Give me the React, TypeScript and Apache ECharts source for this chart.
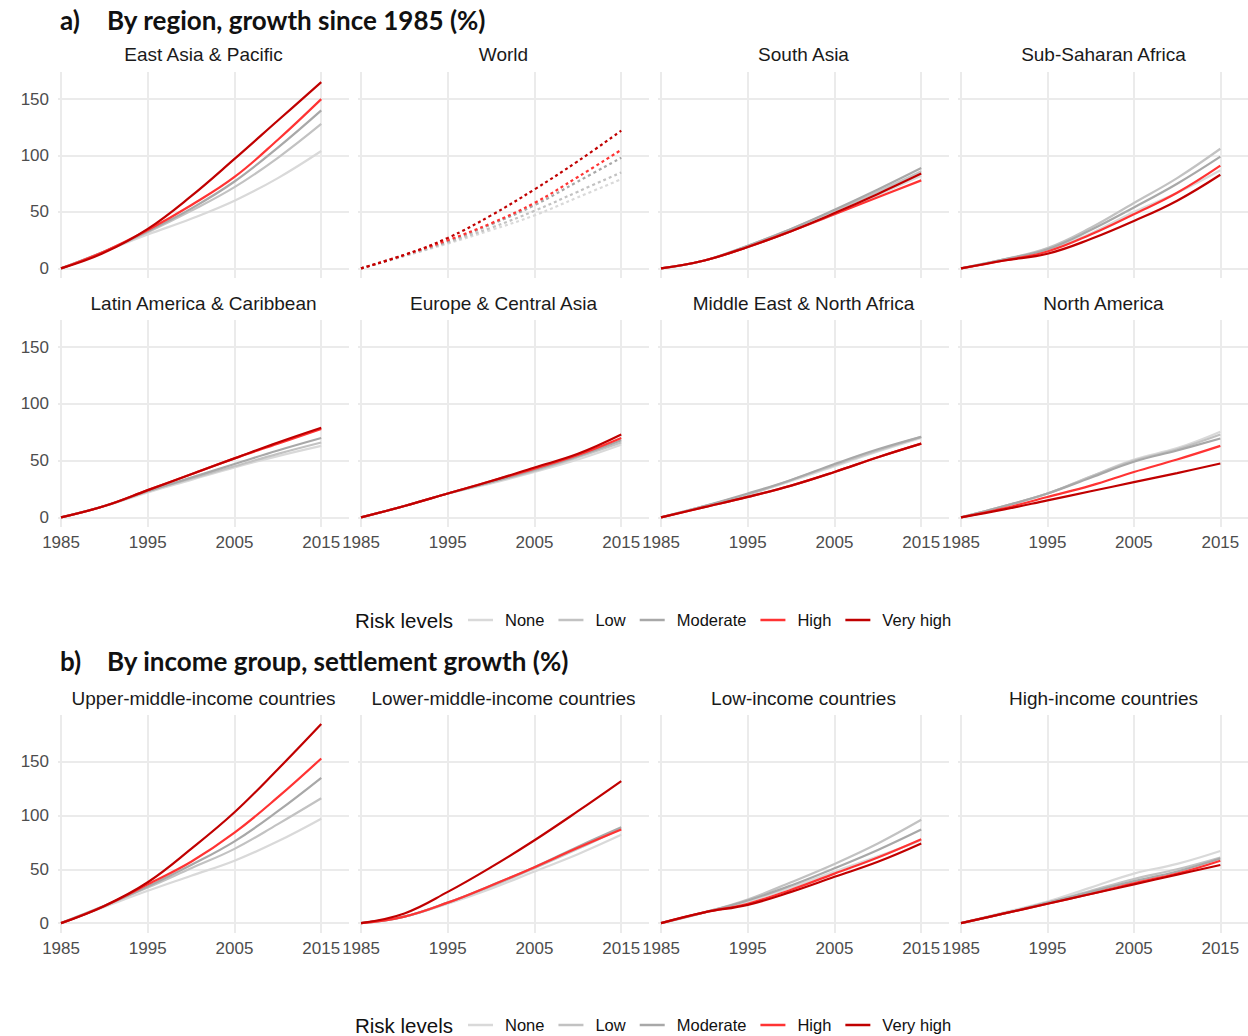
import React, { useEffect, useRef } from "react";
import * as echarts from "echarts";

// Observation years and shared labels
const years = [1985, 1990, 1995, 2000, 2005, 2010, 2015];
const yearTicks = [1985, 1995, 2005, 2015];
const growthTicks = [0, 50, 100, 150];
const riskLevels = ["None", "Low", "Moderate", "High", "Very high"];
const riskColors = ["#d9d9d9", "#c2c2c2", "#a8a8a8", "#ff3333", "#c00000"];

// Growth since 1985 (%), rows in risk order: None, Low, Moderate, High, Very high
const eastAsiaPacific = [
  [0, 15, 30, 44, 60, 80, 104],
  [0, 15, 32, 51, 72, 98, 128],
  [0, 15, 33, 53, 77, 107, 140],
  [0, 15, 34, 56, 81, 114, 150],
  [0, 14, 35, 64, 97, 131, 165],
];
const world = [
  [0, 11, 22, 34, 47, 63, 79],
  [0, 11, 23, 36, 51, 68, 85],
  [0, 12, 24, 39, 56, 77, 98],
  [0, 12, 25, 40, 58, 81, 105],
  [0, 12, 27, 47, 70, 95, 122],
];
const southAsia = [
  [0, 7, 19, 33, 48, 65, 82],
  [0, 7, 20, 35, 51, 68, 86],
  [0, 7, 20, 35, 52, 70, 89],
  [0, 7, 19, 33, 48, 63, 78],
  [0, 7, 19, 33, 49, 66, 84],
];
const subSaharanAfrica = [
  [0, 8, 16, 31, 50, 67, 87],
  [0, 8, 18, 36, 58, 80, 106],
  [0, 8, 17, 34, 54, 75, 99],
  [0, 7, 15, 30, 48, 67, 91],
  [0, 7, 13, 26, 42, 60, 83],
];
const latinAmericaCaribbean = [
  [0, 10, 22, 33, 44, 54, 63],
  [0, 10, 23, 34, 45, 56, 66],
  [0, 10, 23, 35, 47, 59, 70],
  [0, 10, 24, 38, 52, 65, 78],
  [0, 10, 24, 38, 52, 66, 79],
];
const europeCentralAsia = [
  [0, 10, 21, 30, 40, 51, 64],
  [0, 10, 21, 31, 41, 53, 66],
  [0, 10, 21, 31, 42, 54, 68],
  [0, 10, 21, 32, 43, 55, 70],
  [0, 10, 21, 32, 44, 56, 73],
];
const middleEastNorthAfrica = [
  [0, 10, 20, 32, 45, 58, 70],
  [0, 10, 20, 33, 46, 59, 71],
  [0, 10, 21, 33, 47, 60, 71],
  [0, 9, 18, 28, 40, 53, 65],
  [0, 9, 18, 28, 40, 53, 65],
];
const northAmerica = [
  [0, 10, 21, 36, 51, 61, 75.5],
  [0, 10, 21, 36, 50, 60, 73],
  [0, 10, 21, 35, 49, 59, 69.5],
  [0, 8, 18, 28, 40, 51, 63],
  [0, 7, 15, 23, 31, 39, 47.5],
];

// Settlement growth (%) by income group
const upperMiddleIncome = [
  [0, 15, 30, 44, 58, 76, 97],
  [0, 16, 33, 51, 69, 92, 116],
  [0, 16, 34, 54, 76, 104, 135],
  [0, 16, 36, 57, 84, 117, 153],
  [0, 16, 38, 69, 103, 143, 185],
];
const lowerMiddleIncome = [
  [0, 6, 18, 32, 48, 64, 82],
  [0, 6, 19, 34, 51, 69, 88],
  [0, 6, 19, 35, 52, 71, 89],
  [0, 6, 19, 35, 52, 70, 87],
  [0, 9, 29, 52, 77, 104, 132],
];
const lowIncome = [
  [0, 10, 20, 33, 48, 62, 77],
  [0, 10, 22, 38, 55, 74, 96],
  [0, 10, 21, 35, 51, 68, 87],
  [0, 10, 18, 31, 46, 61, 78],
  [0, 10, 17, 29, 43, 57, 74],
];
const highIncome = [
  [0, 10, 20, 33, 46, 55, 67],
  [0, 9, 19, 30, 41, 50, 61],
  [0, 9, 19, 29, 39, 48, 60],
  [0, 9, 18, 27, 37, 46, 58],
  [0, 9, 18, 27, 36, 45, 54],
];

const regionTop = [
  { title: "East Asia & Pacific", values: eastAsiaPacific, dashed: false },
  { title: "World", values: world, dashed: true },
  { title: "South Asia", values: southAsia, dashed: false },
  { title: "Sub-Saharan Africa", values: subSaharanAfrica, dashed: false },
];
const regionBottom = [
  { title: "Latin America & Caribbean", values: latinAmericaCaribbean, dashed: false },
  { title: "Europe & Central Asia", values: europeCentralAsia, dashed: false },
  { title: "Middle East & North Africa", values: middleEastNorthAfrica, dashed: false },
  { title: "North America", values: northAmerica, dashed: false },
];
const incomeRow = [
  { title: "Upper-middle-income countries", values: upperMiddleIncome, dashed: false },
  { title: "Lower-middle-income countries", values: lowerMiddleIncome, dashed: false },
  { title: "Low-income countries", values: lowIncome, dashed: false },
  { title: "High-income countries", values: highIncome, dashed: false },
];

const SANS = "'Liberation Sans', Arial, sans-serif";
const HEAD = "Lato, 'Open Sans', sans-serif";
const GRID_COLOR = "#ebebeb";

function buildOption() {
  const rows = [
    { facets: regionTop, top: 72, height: 206, stripY: 54, yMin: -8.5, yMax: 174, showX: false },
    { facets: regionBottom, top: 320, height: 207, stripY: 303, yMin: -8.5, yMax: 174, showX: true },
    { facets: incomeRow, top: 715, height: 218, stripY: 698, yMin: -9.2, yMax: 193.4, showX: true },
  ];

  const grid: any[] = [];
  const xAxis: any[] = [];
  const yAxis: any[] = [];
  const graphic: any[] = [];

  // Section headings
  const headings = [
    { tag: "a)", text: "By region, growth since 1985 (%)", y: 20 },
    { tag: "b)", text: "By income group, settlement growth (%)", y: 661 },
  ];
  headings.forEach((h) => {
    graphic.push({
      type: "text", x: 60, y: h.y,
      style: { text: h.tag, font: `bold 26px ${HEAD}`, fill: "#111", textVerticalAlign: "middle" },
    });
    graphic.push({
      type: "text", x: 107, y: h.y,
      style: { text: h.text, font: `bold 26px ${HEAD}`, fill: "#111", textVerticalAlign: "middle" },
    });
  });

  // Legend captions
  [620, 1025].forEach((y) => {
    graphic.push({
      type: "text", x: 355, y,
      style: { text: "Risk levels", font: `20.5px ${SANS}`, fill: "#111", textVerticalAlign: "middle" },
    });
  });

  const solid: any[] = [];
  const dashed: any[] = [];
  rows.forEach((row) => {
    row.facets.forEach((facet, col) => {
      const left = 58 + 300 * col;
      const width = 291;
      const idx = grid.length;
      grid.push({ left, top: row.top, width, height: row.height, containLabel: false });
      graphic.push({
        type: "text", x: left + width / 2, y: row.stripY,
        style: {
          text: facet.title, font: `19px ${SANS}`, fill: "#1a1a1a",
          textAlign: "center", textVerticalAlign: "middle",
        },
      });
      xAxis.push({
        type: "value", gridIndex: idx, min: 1984.65, max: 2018.2,
        axisLine: { show: false },
        axisTick: { show: false, customValues: yearTicks },
        axisLabel: {
          show: row.showX, customValues: yearTicks, margin: 7,
          color: "#4d4d4d", fontSize: 17, fontFamily: SANS,
          formatter: (v: number) => String(v),
        },
        splitLine: { show: true, lineStyle: { color: GRID_COLOR, width: 2 } },
      });
      yAxis.push({
        type: "value", gridIndex: idx, min: row.yMin, max: row.yMax,
        axisLine: { show: false },
        axisTick: { show: false, customValues: growthTicks },
        axisLabel: {
          show: col === 0, customValues: growthTicks, margin: 9,
          color: "#4d4d4d", fontSize: 17, fontFamily: SANS,
          formatter: (v: number) => String(v),
        },
        splitLine: { show: true, lineStyle: { color: GRID_COLOR, width: 2 } },
      });
      riskLevels.forEach((level, k) => {
        const s = {
          type: "line", name: level, xAxisIndex: idx, yAxisIndex: idx,
          data: years.map((yr, i) => [yr, facet.values[k][i]]),
          symbol: "none", showSymbol: false,
          smooth: 0.4,
          lineStyle: { color: riskColors[k], width: 2.2, type: facet.dashed ? [3, 3] : "solid" },
          itemStyle: { color: riskColors[k] },
          emphasis: { disabled: true }, silent: true, z: 2 + k,
        };
        (facet.dashed ? dashed : solid).push(s);
      });
    });
  });
  // solid series first so legend entries take the solid style
  const series = [...solid, ...dashed];

  const legendBase = {
    data: riskLevels, left: 468, orient: "horizontal", selectedMode: false,
    padding: 0, icon: "rect",
    itemWidth: 25, itemHeight: 2.5, itemGap: 14,
    textStyle: { fontSize: 16.5, fontFamily: SANS, color: "#111", padding: [0, 0, 0, 7], lineHeight: 18 },
  };

  return {
    animation: false,
    backgroundColor: "#ffffff",
    grid, xAxis, yAxis, series, graphic,
    legend: [
      { ...legendBase, top: 611 },
      { ...legendBase, top: 1016 },
    ],
  };
}

export default function App() {
  const ref = useRef<HTMLDivElement>(null);
  useEffect(() => {
    if (!ref.current) return;
    const chart = echarts.init(ref.current, null, { renderer: "svg" });
    chart.setOption(buildOption() as any);
    return () => chart.dispose();
  }, []);
  return (
    <div
      ref={ref}
      style={{ position: "absolute", left: 0, top: 0, width: 1248, height: 1036, background: "#fff" }}
    />
  );
}
